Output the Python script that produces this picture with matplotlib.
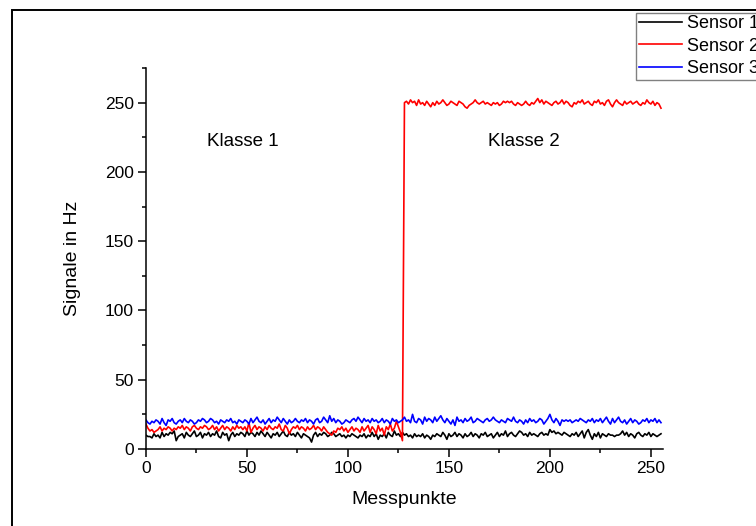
import matplotlib.pyplot as plt
from matplotlib.patches import Rectangle
from matplotlib.ticker import MultipleLocator

plt.rcParams['font.family'] = ['Liberation Sans', 'DejaVu Sans']

# Messwerte der drei Sensoren, 256 Messpunkte
sensor1 = [
    10, 9, 9, 8, 11, 9, 10, 8, 12, 9, 11, 10, 12, 11, 13, 6,
    9, 10, 11, 8, 12, 10, 9, 11, 13, 9, 10, 12, 8, 11, 10, 12,
    9, 11, 10, 13, 9, 8, 12, 10, 11, 6, 10, 12, 9, 11, 10, 12,
    11, 9, 13, 10, 12, 11, 9, 12, 10, 13, 11, 9, 12, 10, 8, 11,
    10, 12, 9, 11, 13, 10, 9, 12, 10, 11, 9, 12, 10, 8, 11, 10,
    9, 8, 5, 10, 12, 9, 11, 10, 12, 11, 9, 10, 12, 11, 9, 10,
    11, 9, 10, 8, 10, 9, 11, 10, 9, 8, 10, 9, 11, 8, 10, 9,
    12, 9, 11, 7, 10, 9, 11, 8, 12, 10, 9, 13, 10, 11, 9, 12,
    10, 11, 9, 10, 8, 11, 9, 10, 9, 11, 8, 10, 9, 7, 10, 9,
    11, 10, 9, 12, 10, 7, 11, 9, 10, 12, 9, 11, 10, 8, 11, 9,
    10, 12, 9, 11, 10, 8, 11, 10, 12, 9, 10, 11, 8, 10, 12, 9,
    11, 10, 13, 9, 11, 12, 10, 9, 11, 13, 12, 10, 11, 9, 12, 10,
    11, 10, 9, 11, 12, 10, 11, 10, 14, 12, 13, 11, 12, 11, 10, 12,
    11, 10, 9, 11, 10, 12, 9, 11, 13, 8, 12, 14, 10, 7, 11, 9,
    12, 8, 11, 10, 9, 11, 10, 10, 9, 10, 10, 11, 13, 10, 12, 9,
    11, 10, 8, 11, 12, 10, 9, 11, 10, 12, 9, 11, 10, 9, 10, 11,
]
sensor2 = [
    18, 15, 13, 14, 12, 13, 14, 16, 13, 15, 14, 16, 15, 13, 15, 14,
    16, 15, 17, 14, 16, 15, 13, 16, 17, 15, 14, 16, 15, 17, 16, 14,
    15, 17, 14, 16, 13, 15, 17, 14, 16, 15, 13, 16, 14, 17, 15, 16,
    14, 16, 13, 19, 12, 15, 17, 14, 16, 15, 13, 16, 14, 17, 15, 14,
    16, 15, 18, 14, 13, 17, 15, 11, 14, 16, 15, 17, 14, 16, 15, 13,
    16, 14, 15, 17, 14, 16, 15, 13, 16, 14, 12, 11, 10, 13, 12, 15,
    14, 16, 13, 15, 12, 14, 16, 13, 15, 14, 12, 16, 13, 15, 17, 12,
    16, 14, 11, 17, 13, 15, 10, 16, 14, 18, 13, 15, 20, 16, 12, 6,
    250, 251, 249, 252, 250, 251, 248, 252, 249, 250, 248, 251, 249, 247, 250, 248,
    251, 249, 250, 252, 250, 248, 249, 251, 250, 249, 248, 251, 250, 249, 247, 246,
    248, 249, 250, 252, 250, 249, 250, 251, 249, 250, 249, 248, 250, 249, 250, 248,
    249, 251, 250, 251, 250, 251, 249, 248, 250, 249, 248, 249, 251, 249, 248, 250,
    249, 251, 253, 250, 252, 249, 251, 250, 249, 248, 250, 251, 249, 250, 252, 249,
    251, 250, 248, 247, 250, 249, 251, 250, 252, 249, 250, 251, 249, 248, 251, 250,
    252, 249, 250, 248, 251, 252, 249, 247, 250, 252, 250, 249, 248, 251, 249, 250,
    251, 249, 250, 251, 249, 248, 250, 249, 252, 250, 249, 251, 248, 250, 249, 246,
]
sensor3 = [
    21, 19, 18, 20, 19, 21, 20, 18, 22, 19, 17, 21, 20, 22, 19, 18,
    20, 21, 19, 22, 20, 19, 21, 20, 18, 19, 21, 20, 22, 21, 19, 20,
    22, 21, 19, 20, 18, 21, 20, 19, 21, 20, 22, 19, 20, 18, 21, 20,
    19, 21, 20, 18, 22, 19, 21, 23, 20, 19, 21, 18, 20, 22, 19, 21,
    20, 23, 21, 19, 22, 20, 18, 21, 19, 20, 22, 20, 19, 21, 20, 22,
    19, 21, 20, 18, 21, 22, 19, 20, 23, 21, 19, 24, 20, 22, 19, 21,
    20, 18, 19, 21, 20, 19, 21, 22, 20, 23, 21, 19, 22, 20, 21, 19,
    22, 20, 21, 19, 20, 22, 19, 21, 20, 18, 22, 20, 21, 19, 20, 21,
    23, 20, 21, 19, 25, 20, 19, 22, 21, 18, 23, 20, 22, 21, 19, 23,
    20, 22, 24, 21, 19, 22, 20, 18, 21, 17, 23, 20, 21, 19, 22, 20,
    21, 23, 19, 20, 22, 21, 20, 19, 21, 22, 20, 21, 23, 21, 20, 19,
    21, 20, 19, 22, 21, 20, 23, 20, 19, 21, 20, 18, 21, 19, 22, 20,
    21, 19, 20, 22, 21, 18, 20, 22, 25, 21, 19, 22, 20, 17, 21, 20,
    21, 20, 21, 19, 20, 21, 20, 22, 21, 20, 19, 21, 20, 22, 19, 21,
    20, 22, 19, 21, 23, 20, 18, 22, 19, 21, 23, 20, 19, 21, 18, 20,
    22, 19, 21, 20, 18, 19, 21, 20, 22, 19, 21, 20, 22, 19, 21, 19,
]
messpunkte = list(range(len(sensor1)))

fig = plt.figure(figsize=(7.56, 5.26), dpi=100)
ax = fig.add_axes([0.193, 0.1464, 0.684, 0.7243])

ax.plot(messpunkte, sensor1, color='black', lw=1.2, label='Sensor 1')
ax.plot(messpunkte, sensor2, color='red', lw=1.2, label='Sensor 2')
ax.plot(messpunkte, sensor3, color='blue', lw=1.2, label='Sensor 3')

ax.set_xlim(0, 256)
ax.set_ylim(0, 275)
ax.xaxis.set_major_locator(MultipleLocator(50))
ax.xaxis.set_minor_locator(MultipleLocator(25))
ax.yaxis.set_major_locator(MultipleLocator(50))
ax.yaxis.set_minor_locator(MultipleLocator(25))
for s in ['top', 'right']:
    ax.spines[s].set_visible(False)
for s in ['left', 'bottom']:
    ax.spines[s].set_linewidth(1.1)
ax.tick_params(which='major', direction='out', length=5.8, width=1.1,
               labelsize=12.5, pad=3)
ax.tick_params(which='minor', direction='out', length=3, width=1.1)

ax.set_xlabel('Messpunkte', fontsize=14, labelpad=11)
ax.set_ylabel('Signale in Hz', fontsize=14, labelpad=17)

ax.text(48, 222, 'Klasse 1', fontsize=13.5, ha='center', va='center')
ax.text(187, 222, 'Klasse 2', fontsize=13.5, ha='center', va='center')

# Rahmen um die ganze Grafik
fig.add_artist(Rectangle((12 / 756, -0.05), 1.0, 1 - 10 / 526 + 0.05,
                         transform=fig.transFigure, fill=False,
                         ec='black', lw=1.4))

leg = ax.legend(loc='upper left', bbox_to_anchor=(636 / 756, 1 - 12.5 / 526),
                bbox_transform=fig.transFigure, borderaxespad=0, fontsize=13,
                borderpad=0.15, handlelength=2.4, handletextpad=0.3,
                labelspacing=0.3, fancybox=False, framealpha=1)
leg.get_frame().set_edgecolor('#808080')
leg.get_frame().set_linewidth(1.0)

fig.savefig('out.png', dpi=100)
